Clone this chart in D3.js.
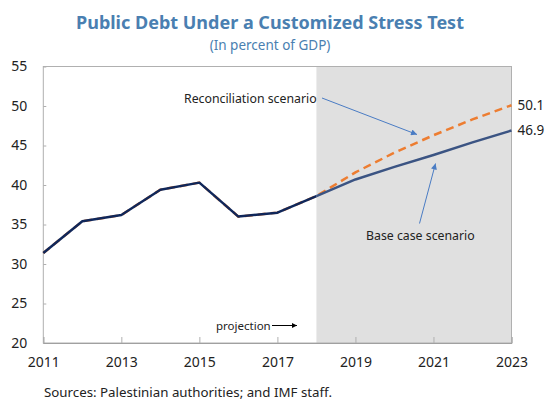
<!DOCTYPE html>
<html>
<head>
<meta charset="utf-8">
<script src="https://cdn.jsdelivr.net/npm/d3@7"></script>
<style>
  html, body { margin: 0; padding: 0; background: #fff; }
  svg { display: block; font-family: "Noto Sans", "Open Sans", sans-serif; }
</style>
</head>
<body>
<svg id="chart" width="545" height="404"></svg>
<script>
// Public debt, percent of GDP
const years = [2011, 2012, 2013, 2014, 2015, 2016, 2017, 2018, 2019, 2020, 2021, 2022, 2023];
const historical = [31.4, 35.4, 36.2, 39.4, 40.3, 36.0, 36.5, 38.6];            // 2011–2018
const baseCase = [38.6, 40.7, 42.3, 43.8, 45.4, 46.9];                          // 2018–2023
const reconciliation = [31.4, 35.4, 36.2, 39.4, 40.3, 36.0, 36.5, 38.6, 41.6, 44.1, 46.3, 48.3, 50.1];
const projectionStart = 2018;
const yTicks = [20, 25, 30, 35, 40, 45, 50, 55];
const xTicks = [2011, 2013, 2015, 2017, 2019, 2021, 2023];

const svg = d3.select("#chart");
const m = { left: 43.3, right: 511.5, top: 66.5, bottom: 343 };

const x = d3.scaleLinear().domain([2011, 2023]).range([m.left, m.right]);
const y = d3.scaleLinear().domain([20, 55]).range([m.bottom, m.top]);

// Title block
svg.append("text")
  .attr("x", 270).attr("y", 29)
  .attr("text-anchor", "middle")
  .attr("font-size", 18).attr("font-weight", 700)
  .attr("fill", "#4a7fb1")
  .text("Public Debt Under a Customized Stress Test");
svg.append("text")
  .attr("x", 270).attr("y", 50)
  .attr("text-anchor", "middle")
  .attr("font-size", 13.5)
  .attr("fill", "#4a7fb1")
  .text("(In percent of GDP)");

// Projection shading
svg.append("rect")
  .attr("x", x(projectionStart)).attr("y", m.top)
  .attr("width", x(2023) - x(projectionStart))
  .attr("height", m.bottom - m.top)
  .attr("fill", "#e0e0e0");

// Plot frame
svg.append("rect")
  .attr("x", m.left).attr("y", m.top)
  .attr("width", m.right - m.left).attr("height", m.bottom - m.top)
  .attr("fill", "none").attr("stroke", "#b0b0b0").attr("stroke-width", 1);

// Y axis (ticks point inward)
const yAxis = d3.axisLeft(y).tickValues(yTicks).tickSize(-3).tickPadding(16).tickFormat(d3.format("d"));
const yg = svg.append("g").attr("transform", `translate(${m.left},0)`).call(yAxis);
yg.select(".domain").remove();
yg.selectAll(".tick line").attr("stroke", "#b0b0b0");
yg.selectAll(".tick text").attr("font-size", 14).attr("fill", "#222").attr("font-family", "Noto Sans, sans-serif");

// X axis (ticks point upward into the plot)
const xAxis = d3.axisBottom(x).tickValues(xTicks).tickSize(-6).tickPadding(14).tickFormat(d3.format("d"));
const xg = svg.append("g").attr("transform", `translate(0,${m.bottom})`).call(xAxis);
xg.select(".domain").attr("stroke", "#a0a0a0");
xg.selectAll(".tick line").attr("stroke", "#b0b0b0");
xg.selectAll(".tick text").attr("font-size", 14).attr("fill", "#222").attr("font-family", "Noto Sans, sans-serif");

const line = d3.line().x(d => x(d[0])).y(d => y(d[1]));

// Reconciliation scenario (dashed)
svg.append("path")
  .datum(reconciliation.map((v, i) => [years[i], v]))
  .attr("d", line)
  .attr("fill", "none").attr("stroke", "#ed7d31")
  .attr("stroke-width", 2.5).attr("stroke-dasharray", "8,5");

// Base case projection
svg.append("path")
  .datum(baseCase.map((v, i) => [projectionStart + i, v]))
  .attr("d", line)
  .attr("fill", "none").attr("stroke", "#3b5483")
  .attr("stroke-width", 2.5).attr("stroke-linejoin", "round");

// Historical
svg.append("path")
  .datum(historical.map((v, i) => [years[i], v]))
  .attr("d", line)
  .attr("fill", "none").attr("stroke", "#10275a")
  .attr("stroke-width", 2.5).attr("stroke-linejoin", "round");

// End-point value labels
svg.append("text")
  .attr("x", m.right + 6).attr("y", y(reconciliation[reconciliation.length - 1]) + 5)
  .attr("font-size", 13.5).attr("fill", "#222")
  .text(d3.format(".1f")(reconciliation[reconciliation.length - 1]));
svg.append("text")
  .attr("x", m.right + 6).attr("y", y(baseCase[baseCase.length - 1]) + 5)
  .attr("font-size", 13.5).attr("fill", "#222")
  .text(d3.format(".1f")(baseCase[baseCase.length - 1]));

// Arrow markers
const defs = svg.append("defs");
defs.append("marker")
  .attr("id", "blueHead").attr("viewBox", "0 0 10 10")
  .attr("refX", 10).attr("refY", 5)
  .attr("markerWidth", 8).attr("markerHeight", 6)
  .attr("markerUnits", "userSpaceOnUse")
  .attr("orient", "auto")
  .append("path").attr("d", "M0,0L10,5L0,10z").attr("fill", "#4a7cc4");
defs.append("marker")
  .attr("id", "blackHead").attr("viewBox", "0 0 10 10")
  .attr("refX", 10).attr("refY", 5)
  .attr("markerWidth", 7).attr("markerHeight", 5)
  .attr("markerUnits", "userSpaceOnUse")
  .attr("orient", "auto")
  .append("path").attr("d", "M0,0L10,5L0,10z").attr("fill", "#000");

// Scenario annotations
svg.append("text")
  .attr("x", 184).attr("y", 103)
  .attr("font-size", 12.3).attr("fill", "#222")
  .text("Reconciliation scenario");
svg.append("line")
  .attr("x1", 322).attr("y1", 98).attr("x2", 417).attr("y2", 134.5)
  .attr("stroke", "#4a7cc4").attr("stroke-width", 1)
  .attr("marker-end", "url(#blueHead)");

svg.append("text")
  .attr("x", 366).attr("y", 240)
  .attr("font-size", 12.3).attr("fill", "#222")
  .text("Base case scenario");
svg.append("line")
  .attr("x1", 419.5).attr("y1", 223.5).attr("x2", 435.5).attr("y2", 163.5)
  .attr("stroke", "#4a7cc4").attr("stroke-width", 1)
  .attr("marker-end", "url(#blueHead)");

svg.append("text")
  .attr("x", 216).attr("y", 329.5)
  .attr("font-size", 11.5).attr("fill", "#222")
  .text("projection");
svg.append("line")
  .attr("x1", 272).attr("y1", 325.5).attr("x2", 297).attr("y2", 325.5)
  .attr("stroke", "#000").attr("stroke-width", 1)
  .attr("marker-end", "url(#blackHead)");

// Source note
svg.append("text")
  .attr("x", 44).attr("y", 396.5)
  .attr("font-size", 13.3).attr("fill", "#222")
  .text("Sources: Palestinian authorities; and IMF staff.");
</script>
</body>
</html>
